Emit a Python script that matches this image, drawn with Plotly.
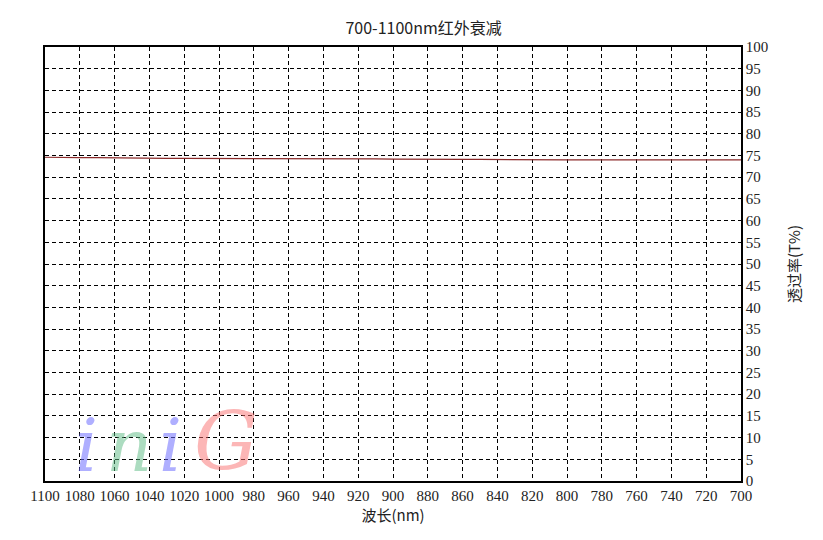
import plotly.graph_objects as go

wavelength = [1100, 1090, 1080, 1070, 1060, 1050, 1040, 1030, 1020, 1010, 1000,
              990, 980, 970, 960, 950, 940, 930, 920, 910, 900,
              890, 880, 870, 860, 850, 840, 830, 820, 810, 800,
              790, 780, 770, 760, 750, 740, 730, 720, 710, 700]
transmittance = [74.6, 74.5, 74.5, 74.5, 74.42, 74.5, 74.4, 74.35, 74.35, 74.35, 74.3,
                 74.3, 74.3, 74.25, 74.25, 74.2, 74.2, 74.2, 74.2, 74.2, 74.15,
                 74.1, 74.1, 74.05, 74.1, 74.1, 74.05, 74.0, 74.05, 74.0, 74.0,
                 74.0, 74.0, 74.0, 74.0, 74.0, 74.0, 74.0, 74.0, 74.0, 74.0]
x_ticks = list(range(700, 1101, 20))
y_ticks = list(range(0, 101, 5))

serif = "Times New Roman, Liberation Serif, DejaVu Serif, serif"
cjk = "Noto Sans CJK SC"

fig = go.Figure()
fig.add_trace(go.Scatter(x=wavelength, y=transmittance, mode="lines",
                         line=dict(color="#8b2a2a", width=1.2), showlegend=False))

fig.update_layout(
    width=823, height=540,
    margin=dict(l=37, r=90, t=39, b=67),
    paper_bgcolor="white", plot_bgcolor="white",
    font=dict(family=serif),
    title=dict(text="700-1100nm红外衰减", x=0.505, xanchor="center", y=0.963, yanchor="middle",
               font=dict(family=cjk, size=16, color="#222")),
    xaxis=dict(range=[1100, 700], tickvals=x_ticks, ticktext=[str(v) for v in x_ticks],
               showgrid=True, gridcolor="black", griddash="4px,3px", gridwidth=1,
               showline=True, linecolor="black", linewidth=1.5, mirror=True,
               ticks="", zeroline=False,
               tickfont=dict(family=serif, size=15, color="#222"),
               title=dict(text="波长(nm)", font=dict(family=cjk, size=15, color="#222"), standoff=4)),
    yaxis=dict(range=[0, 100], tickvals=y_ticks, side="right",
               showgrid=True, gridcolor="black", griddash="4px,3px", gridwidth=1,
               showline=True, linecolor="black", linewidth=1.5, mirror=True,
               ticks="", zeroline=False,
               tickfont=dict(family=serif, size=15, color="#222"),
               title=dict(text="透过率(T%)", font=dict(family=cjk, size=15, color="#222"), standoff=22)),
)

letters = [("i", "rgba(110,110,255,0.55)", 0.06), ("n", "rgba(90,185,130,0.5)", 0.12),
           ("i", "rgba(110,110,255,0.55)", 0.18), ("G", "rgba(250,110,110,0.5)", 0.26)]
for ch, col, xp in letters:
    fig.add_annotation(text=ch, xref="paper", yref="paper", x=xp, y=-0.02, xanchor="center",
                       yanchor="bottom", showarrow=False,
                       font=dict(family="DejaVu Serif", size=80 if ch == "G" else 72,
                                 color=col, style="italic"))

fig.write_html("out.html")
